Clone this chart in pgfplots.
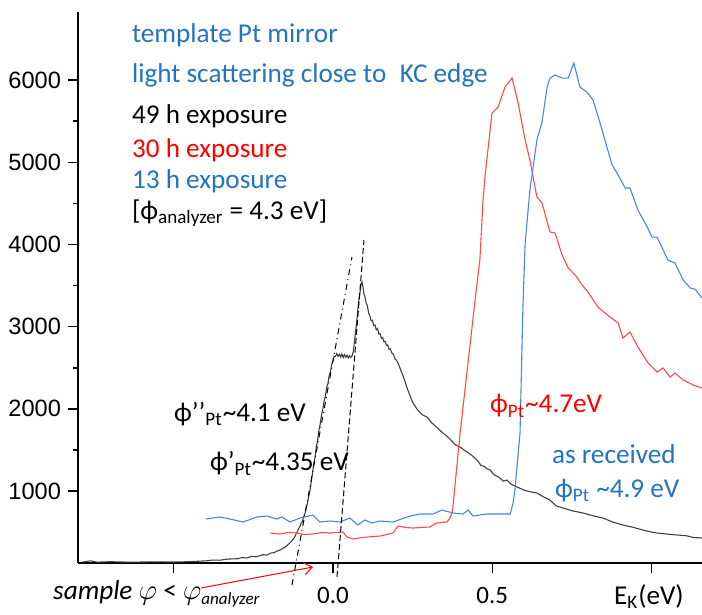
\documentclass[border=0pt]{standalone}
\usepackage{fontspec}
\setmainfont{Carlito}
\newfontfamily\arial{Liberation Sans}
\usepackage{pgfplots}
\pgfplotsset{compat=1.18}
\usetikzlibrary{arrows.meta}
\definecolor{txtblue}{HTML}{2273C2}
\definecolor{lineblue}{HTML}{4A86E0}
\definecolor{linered}{HTML}{FF4A4A}
\definecolor{lineblack}{HTML}{404040}
\newcommand\fs{\fontsize{13.6}{16}\selectfont}
\begin{document}
\begin{tikzpicture}
\begin{axis}[
  scale only axis, width=312pt, height=275.5pt,
  xmin=-0.8, xmax=1.158, ymin=124, ymax=6830,
  axis x line*=bottom, axis y line*=left,
  axis line style={line width=1.2pt, black},
  clip=false,
  tick align=outside,
  major tick length=5pt, minor tick length=2.5pt,
  every tick/.style={black, line width=0.8pt},
  xtick={-0.5,0,0.5,1}, xticklabels={,0.0,0.5,},
  ytick={1000,2000,3000,4000,5000,6000}, minor y tick num=1,
  scaled y ticks=false,
  /pgf/number format/1000 sep={},
  /pgf/number format/assume math mode=true,
  yticklabel style={font=\arial\fontsize{11.8}{13}\selectfont},
  xticklabel style={font=\fontsize{12.5}{14}\selectfont, yshift=-3.5pt},
]
% 49 h exposure (black)
\addplot[lineblack, line width=0.55pt] coordinates {
(-0.785,136) (-0.760,150) (-0.740,134) (-0.700,140) (-0.637,134) (-0.560,138) (-0.500,136)
(-0.449,140) (-0.420,146) (-0.400,150) (-0.377,160) (-0.355,158) (-0.330,172) (-0.300,176)
(-0.285,190) (-0.270,185) (-0.255,205) (-0.240,200) (-0.220,225) (-0.207,221) (-0.195,245)
(-0.185,250) (-0.175,270) (-0.166,282) (-0.158,300) (-0.150,318) (-0.142,345) (-0.135,367)
(-0.128,400) (-0.124,420)
(-0.120,440) (-0.116,478) (-0.112,500) (-0.108,540) (-0.104,565) (-0.100,608) (-0.096,625)
(-0.092,690) (-0.088,722) (-0.084,800) (-0.080,850) (-0.076,940) (-0.072,1005) (-0.068,1120)
(-0.064,1220) (-0.060,1340) (-0.056,1415) (-0.052,1545) (-0.048,1620) (-0.044,1742)
(-0.040,1815) (-0.036,1925) (-0.032,1990) (-0.028,2092) (-0.024,2150) (-0.020,2258)
(-0.016,2305) (-0.012,2402) (-0.008,2450) (-0.004,2540) (0.000,2588) (0.004,2642)
(0.008,2638) (0.012,2672) (0.016,2640) (0.020,2665) (0.024,2630) (0.028,2668) (0.032,2625)
(0.036,2660) (0.040,2628) (0.044,2655) (0.048,2620) (0.052,2648) (0.056,2626) (0.060,2645)
(0.064,2700) (0.068,2840) (0.072,2975) (0.076,3115) (0.080,3285) (0.084,3395) (0.088,3505)
(0.091,3544) (0.094,3490) (0.097,3405) (0.100,3370) (0.104,3290) (0.108,3255) (0.112,3165)
(0.116,3130) (0.120,3072) (0.124,3078) (0.128,3012) (0.132,3020) (0.136,2962) (0.140,2978)
(0.144,2912) (0.148,2915) (0.152,2860) (0.156,2870) (0.160,2815) (0.164,2822) (0.168,2772)
(0.172,2778) (0.176,2725) (0.180,2730) (0.185,2680) (0.190,2662) (0.195,2605) (0.200,2590)
(0.204,2558) (0.210,2500) (0.220,2400) (0.235,2229) (0.250,2080) (0.265,1990) (0.280,1930)
(0.295,1901) (0.310,1830) (0.330,1760) (0.345,1706) (0.360,1660) (0.375,1600) (0.385,1560)
(0.399,1535) (0.415,1490) (0.430,1450) (0.440,1420) (0.452,1377) (0.465,1310) (0.475,1300)
(0.483,1270) (0.493,1256) (0.505,1200) (0.520,1170) (0.535,1120) (0.546,1134) (0.560,1080)
(0.578,1049) (0.600,1010) (0.620,990) (0.640,976) (0.660,930) (0.681,890) (0.700,820)
(0.722,793) (0.750,760) (0.785,732) (0.815,700) (0.847,671) (0.880,620) (0.910,586)
(0.940,560) (0.973,525) (1.000,500) (1.017,489) (1.050,475) (1.080,465) (1.110,455)
(1.130,435) (1.158,428)
};
% 30 h exposure (red)
\addplot[linered, line width=0.55pt] coordinates {
(-0.198,489) (-0.166,477) (-0.140,495) (-0.113,489) (-0.090,470) (-0.063,477) (-0.035,495)
(-0.009,489) (0.031,501) (0.044,440) (0.063,416) (0.085,430) (0.107,440) (0.148,452)
(0.188,489) (0.204,574) (0.230,555) (0.251,550) (0.304,562) (0.326,611) (0.358,623)
(0.367,671) (0.374,732) (0.377,830) (0.399,1706) (0.446,3324) (0.461,3811) (0.471,4541)
(0.477,4821) (0.499,5600) (0.518,5673) (0.540,5917) (0.562,6026) (0.581,5722) (0.603,5272)
(0.618,5028) (0.640,4578) (0.656,4505) (0.681,4152) (0.697,4140) (0.719,3872) (0.738,3714)
(0.760,3629) (0.782,3507) (0.800,3422) (0.832,3235) (0.869,3118) (0.895,3045) (0.910,2862)
(0.932,2935) (0.957,2752) (0.989,2558) (1.017,2448) (1.036,2497) (1.058,2387) (1.073,2436)
(1.099,2351) (1.130,2290) (1.158,2253)
};
% 13 h exposure (blue)
\addplot[lineblue, line width=0.55pt] coordinates {
(-0.399,659) (-0.355,684) (-0.323,659) (-0.282,623) (-0.239,684) (-0.207,696) (-0.176,659)
(-0.160,684) (-0.135,623) (-0.104,671) (-0.063,708) (-0.041,623) (-0.009,635) (0.022,623)
(0.053,671) (0.078,586) (0.100,647) (0.122,611) (0.148,635) (0.188,623) (0.242,696)
(0.273,720) (0.314,720) (0.342,769) (0.377,732) (0.408,720) (0.424,769) (0.439,696)
(0.483,720) (0.556,720) (0.565,854) (0.571,1012) (0.587,1706) (0.596,3227) (0.603,4018)
(0.618,4663) (0.640,5272) (0.656,5491) (0.672,5917) (0.681,6026) (0.697,6063) (0.719,6026)
(0.738,6026) (0.756,6209) (0.775,5917) (0.797,5856) (0.816,5758) (0.838,5479) (0.876,4967)
(0.895,4846) (0.917,4688) (0.932,4688) (0.957,4420) (0.986,4213) (1.001,4091) (1.017,4091)
(1.051,3811) (1.073,3775) (1.099,3568) (1.121,3471) (1.136,3458) (1.158,3349)
};
% tangent lines
\addplot[black, line width=0.5pt, dash dot] coordinates {(-0.1285,-144) (0.0597,3848)};
\addplot[black, line width=0.5pt, dash pattern=on 3pt off 1.5pt] coordinates {(0.0127,-46) (0.0974,4055)};
% annotations
\node[anchor=base west, text=txtblue, font=\fs] at (axis cs:-0.6525,6464) {template Pt mirror};
\node[anchor=base west, text=txtblue, font=\fs] at (axis cs:-0.6525,5966) {light scattering close to\hspace{0.5em}KC edge};
\node[anchor=base west, text=black, font=\fs] at (axis cs:-0.6525,5479) {49 h exposure};
\node[anchor=base west, text=red, font=\fs] at (axis cs:-0.6525,5065) {30 h exposure};
\node[anchor=base west, text=txtblue, font=\fs] at (axis cs:-0.6525,4676) {13 h exposure};
\node[anchor=base west, text=black, font=\fs] at (axis cs:-0.6525,4310) {[ϕ\textsubscript{analyzer} = 4.3 eV]};
\node[anchor=base west, text=black, font=\fs] at (axis cs:-0.5207,1852) {ϕ’’\textsubscript{Pt}\textasciitilde4.1 eV};
\node[anchor=base west, text=black, font=\fs] at (axis cs:-0.4078,1244) {ϕ’\textsubscript{Pt}\textasciitilde4.35 eV};
\node[anchor=base west, text=red, font=\fs] at (axis cs:0.4708,1950) {ϕ\textsubscript{Pt}\textasciitilde4.7eV};
\node[anchor=base west, text=txtblue, font=\fs] at (axis cs:0.6653,1341) {as received};
\node[anchor=base west, text=txtblue, font=\fs] at (axis cs:0.6747,927) {ϕ\textsubscript{Pt} \textasciitilde4.9 eV};
\node[anchor=base west, text=black, font=\fs\itshape] at (axis cs:-0.90,-326) {sample $\varphi$ {\upshape<} $\varphi_{\mbox{\fontsize{8.5}{10}\selectfont\itshape analyzer}}$};
\node[anchor=base west, text=black, font=\fs] at (axis cs:0.860,-375) {E\textsubscript{K}(eV)};
\draw[red, line width=0.5pt, -{Straight Barb[length=4pt,width=6pt]}] (axis cs:-0.414,-180) -- (axis cs:-0.0626,75);
\coordinate (bbSW) at (rel axis cs:-0.125,-0.0926);
\coordinate (bbNE) at (rel axis cs:1,1.0218);
\end{axis}
\pgfresetboundingbox
\path[use as bounding box] (bbSW) rectangle (bbNE);
\end{tikzpicture}
\end{document}
